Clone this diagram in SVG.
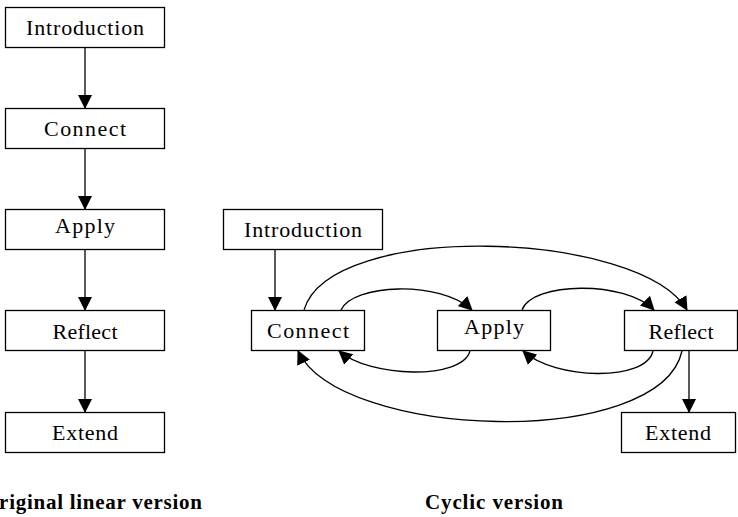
<svg xmlns="http://www.w3.org/2000/svg" width="738" height="517" viewBox="0 0 738 517">
  <defs>
    <marker id="arrow" viewBox="0 0 14 14" refX="13" refY="7" markerWidth="14" markerHeight="14" markerUnits="userSpaceOnUse" orient="auto">
      <path d="M0,0 L14,7 L0,14 Z" fill="#000"/>
    </marker>
    <style>
      .box { fill: #fff; stroke: #000; stroke-width: 1.3; }
      .lbl { font-family: "Liberation Serif", "Times New Roman", serif; font-size: 22px; fill: #000; text-anchor: middle; }
      .cap { font-family: "Liberation Serif", "Times New Roman", serif; font-size: 21px; font-weight: bold; fill: #000; }
      .edge { fill: none; stroke: #000; stroke-width: 1.3; marker-end: url(#arrow); }
    </style>
  </defs>
  <rect width="738" height="517" fill="#fff"/>

  <!-- linear version -->
  <g id="lin-introduction"><rect class="box" x="5.5" y="7.5" width="159" height="40"/><text class="lbl" x="85" y="35" textLength="118" lengthAdjust="spacing">Introduction</text></g>
  <g id="lin-connect"><rect class="box" x="5.5" y="108.5" width="159" height="40"/><text class="lbl" x="85" y="136" textLength="82" lengthAdjust="spacing">Connect</text></g>
  <g id="lin-apply"><rect class="box" x="5.5" y="209.5" width="159" height="40"/><text class="lbl" x="85" y="233" textLength="60" lengthAdjust="spacing">Apply</text></g>
  <g id="lin-reflect"><rect class="box" x="5.5" y="310.5" width="159" height="40"/><text class="lbl" x="85" y="339" textLength="65" lengthAdjust="spacing">Reflect</text></g>
  <g id="lin-extend"><rect class="box" x="5.5" y="412.5" width="159" height="40"/><text class="lbl" x="85" y="440" textLength="66" lengthAdjust="spacing">Extend</text></g>

  <!-- cyclic version -->
  <g id="cyc-introduction"><rect class="box" x="223.5" y="209.5" width="159" height="40"/><text class="lbl" x="303" y="237" textLength="118" lengthAdjust="spacing">Introduction</text></g>
  <g id="cyc-connect"><rect class="box" x="251.5" y="310.5" width="113" height="40"/><text class="lbl" x="308" y="338" textLength="82" lengthAdjust="spacing">Connect</text></g>
  <g id="cyc-apply"><rect class="box" x="437.5" y="310.5" width="113" height="40"/><text class="lbl" x="494" y="334" textLength="60" lengthAdjust="spacing">Apply</text></g>
  <g id="cyc-reflect"><rect class="box" x="624.5" y="310.5" width="113" height="40"/><text class="lbl" x="681" y="339" textLength="65" lengthAdjust="spacing">Reflect</text></g>
  <g id="cyc-extend"><rect class="box" x="621.5" y="412.5" width="114" height="40"/><text class="lbl" x="678" y="440" textLength="66" lengthAdjust="spacing">Extend</text></g>

  <g id="connectors">
    <!-- linear chain -->
    <line class="edge" x1="85" y1="48" x2="85" y2="108"/>
    <line class="edge" x1="85" y1="149" x2="85" y2="209"/>
    <line class="edge" x1="85" y1="250" x2="85" y2="310"/>
    <line class="edge" x1="85" y1="351" x2="85" y2="412"/>
    <!-- cyclic -->
    <line class="edge" x1="275" y1="250" x2="275" y2="310"/>
    <line class="edge" x1="689" y1="351" x2="689" y2="412"/>
    <path class="edge" d="M341,310 C352,284 440,280 472,310"/>
    <path class="edge" d="M470,351 C462,380 370,378 339,351"/>
    <path class="edge" d="M522,310 C532,282 625,280 654,310"/>
    <path class="edge" d="M653,351 C646,382 555,380 523,351"/>
    <path class="edge" d="M304,310 C330,220 640,230 687,310"/>
    <path class="edge" d="M682,351 C660,450 340,440 298,351"/>
  </g>

  <!-- captions (the first one runs past the left edge) -->
  <text class="cap" x="202" y="509" text-anchor="end" textLength="220" lengthAdjust="spacing">Original linear version</text>
  <text class="cap" x="425" y="509" textLength="138" lengthAdjust="spacing">Cyclic version</text>
</svg>
